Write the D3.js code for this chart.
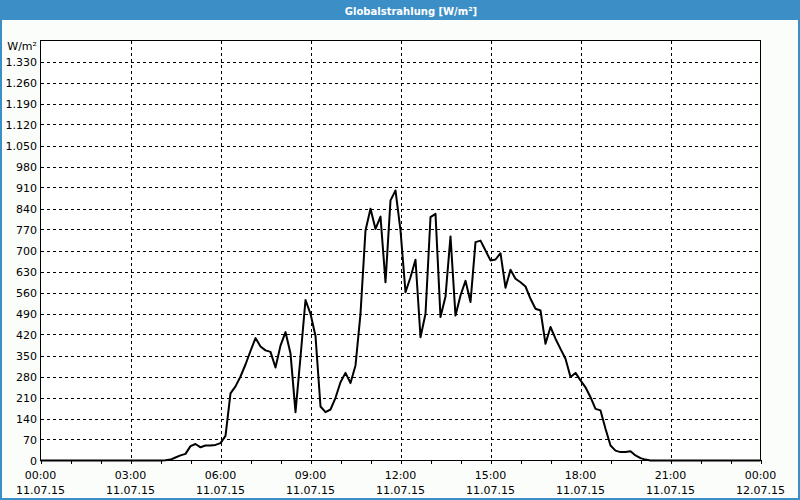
<!DOCTYPE html>
<html><head><meta charset="utf-8">
<script src="https://cdn.jsdelivr.net/npm/d3@7"></script>
<style>
html,body{margin:0;padding:0;background:#fff;}
svg{display:block;}
text{font-family:"DejaVu Sans",Tahoma,sans-serif;font-size:11px;fill:#000;}
</style></head>
<body>
<script>
const title = "Globalstrahlung [W/m²]";
const unitLabel = "W/m²";
// values every 10 minutes from 11.07.15 00:00 to 12.07.15 00:00
const radiation = [
  0,0,0,0,0,0,0,0,0,0,0,0,0,0,0,0,0,0,0,0,0,0,0,0,0,
  1,3,10,17,22,48,55,44,50,50,52,58,82,224,247,280,320,365,408,380,
  367,362,310,383,428,357,161,345,535,489,415,180,161,170,209,261,292,258,317,489,
  767,839,772,813,594,867,900,767,561,611,669,411,489,811,822,478,547,747,483,550,
  599,528,728,733,700,667,670,691,576,636,606,594,580,539,506,500,389,445,406,372,
  339,278,292,267,244,211,172,167,106,50,33,28,28,31,17,8,3,
  0,0,0,0,0,0,0,0,0,0,0,0,0,0,0,0,0,0,0,0,0,0,0
];
const yTicks = [70,140,210,280,350,420,490,560,630,700,770,840,910,980,1050,1120,1190,1260,1330];
const yTickLabels = ["70","140","210","280","350","420","490","560","630","700","770","840","910","980","1.050","1.120","1.190","1.260","1.330"];
const xTickHours = [0,3,6,9,12,15,18,21,24];
const xTickTimes = ["00:00","03:00","06:00","09:00","12:00","15:00","18:00","21:00","00:00"];
const xTickDates = ["11.07.15","11.07.15","11.07.15","11.07.15","11.07.15","11.07.15","11.07.15","11.07.15","12.07.15"];

const W = 800, H = 500;
const svg = d3.select("body").append("svg").attr("width", W).attr("height", H);

// frame
svg.append("rect").attr("x",0).attr("y",0).attr("width",W).attr("height",H).attr("fill","#3c8fc6");
svg.append("rect").attr("x",2).attr("y",20).attr("width",W-4).attr("height",H-22).attr("fill","#fafdfa");
svg.append("text").attr("x",411).attr("y",14.5).attr("text-anchor","middle")
  .style("fill","#fff").style("font-weight","bold").style("font-size","10px").text(title);

const x = d3.scaleLinear().domain([0,24]).range([40.5,760.5]);
const y = d3.scaleLinear().domain([0,1400]).range([460.5,40.5]);

svg.append("rect").attr("x",40.5).attr("y",40.5).attr("width",720).attr("height",420).attr("fill","#fff");

const g = svg.append("g");
// horizontal grid
g.selectAll("line.hg").data(yTicks).join("line").attr("class","hg")
  .attr("x1",41).attr("x2",760).attr("y1",d=>Math.round(y(d))+0.5).attr("y2",d=>Math.round(y(d))+0.5)
  .attr("stroke","#000").attr("stroke-width",1).attr("stroke-dasharray","3,3");
// vertical grid
g.selectAll("line.vg").data(xTickHours.slice(1,-1)).join("line").attr("class","vg")
  .attr("y1",41).attr("y2",460).attr("x1",d=>Math.round(x(d))+0.5).attr("x2",d=>Math.round(x(d))+0.5)
  .attr("stroke","#000").attr("stroke-width",1).attr("stroke-dasharray","3,3");

// hour ticks below axis
g.selectAll("line.tk").data(d3.range(0,25)).join("line").attr("class","tk")
  .attr("x1",d=>Math.round(x(d))+0.5).attr("x2",d=>Math.round(x(d))+0.5)
  .attr("y1",460).attr("y2",464).attr("stroke","#000");

// plot border
svg.append("rect").attr("x",40.5).attr("y",40.5).attr("width",720).attr("height",420)
  .attr("fill","none").attr("stroke","#000").attr("stroke-width",1);

// y labels
svg.append("text").attr("x",37).attr("y",y(0)+4).attr("text-anchor","end").text("0");
svg.selectAll("text.yl").data(yTicks).join("text").attr("class","yl")
  .attr("x",37).attr("y",d=>y(d)+4).attr("text-anchor","end").text((d,i)=>yTickLabels[i]);
svg.append("text").attr("x",37).attr("y",50).attr("text-anchor","end").text(unitLabel);

// x labels
svg.selectAll("text.xt").data(xTickHours).join("text").attr("class","xt")
  .attr("x",d=>x(d)).attr("y",479).attr("text-anchor","middle").text((d,i)=>xTickTimes[i]);
svg.selectAll("text.xd").data(xTickHours).join("text").attr("class","xd")
  .attr("x",d=>x(d)).attr("y",494).attr("text-anchor","middle").text((d,i)=>xTickDates[i]);

// line
const line = d3.line().x((d,i)=>x(i/6)).y(d=>y(d));
svg.append("path").datum(radiation).attr("d",line).attr("fill","none")
  .attr("stroke","#000").attr("stroke-width",2).attr("stroke-linejoin","round");
</script>
</body></html>
